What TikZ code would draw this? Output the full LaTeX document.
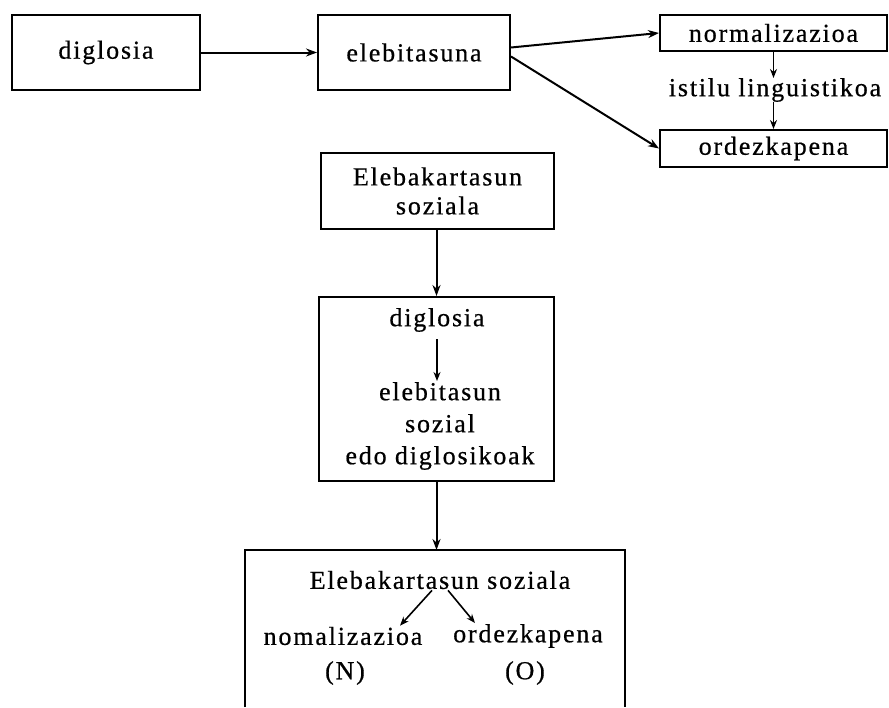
\documentclass[tikz,border=0pt]{standalone}
\usepackage{fontspec}
\setmainfont{Liberation Serif}[LetterSpace=7,FakeBold=0.6]
\usetikzlibrary{arrows.meta,calc}
\begin{document}
\begin{tikzpicture}[x=1pt,y=-1pt,
  box/.style={draw,line width=2pt,rectangle,inner sep=0pt},
  lbl/.style={inner sep=1pt,font=\fontsize{26}{29}\selectfont,align=center},
  arr/.style={line width=2pt,-{Stealth[length=11pt,width=8pt]}},
  sarr/.style={line width=1.6pt,-{Stealth[length=9pt,width=7pt]}}]
\useasboundingbox (0,0) rectangle (889,707);
% top row
\node[box,lbl,minimum width=188,minimum height=75] (d1) at (106,52.5) {diglosia};
\node[box,lbl,minimum width=192,minimum height=75] (e1) at (414,52.5) {elebitasuna};
\node[box,lbl,minimum width=227,minimum height=36] (n1) at (773.5,33) {normalizazioa};
\node[lbl,inner sep=0pt] (i1) at (775,90) {istilu linguistikoa};
\node[box,lbl,minimum width=227,minimum height=37] (o1) at (773.5,148.5) {ordezkapena};
\draw[arr] (d1.east) -- (e1.west);
\coordinate (e1a) at ($(e1.east)+(0,-5)$);
\coordinate (e1b) at ($(e1.east)+(0,4)$);
\draw[arr] (e1a) -- (n1.west);
\draw[arr] (e1b) -- (o1.west);
\draw[sarr] (n1.south) -- (n1.south |- i1.north);
\draw[sarr] (o1.north |- i1.south) -- (o1.north);
% middle column
\node[box,lbl,minimum width=233,minimum height=76] (e2) at (437.5,191) {Elebakartasun\\soziala};
\node[box,minimum width=235,minimum height=184] (m) at (436.5,389) {};
\draw[arr] (m.north |- e2.south) -- (m.north);
\node[lbl] (t1) at (437,320) {diglosia};
\node[lbl,font=\fontsize{26}{32}\selectfont] (t2) at (440,426) {elebitasun\\sozial\\edo diglosikoak};
\coordinate (t1b) at ($(t1.south)+(0,6)$);
\draw[sarr] (t1b) -- (t1b |- t2.north);
% bottom box (open at the bottom)
\coordinate (bbl) at (245,707);
\coordinate (btr) at (625,550);
\coordinate (bbr) at (625,707);
\coordinate (btop) at (436.5,550);
\draw[line width=2pt] (bbl) |- (btr) -- (bbr);
\draw[arr] (m.south) -- (btop);
\node[lbl] (es) at (440,580) {Elebakartasun soziala};
\node[lbl] (nn) at (343,636) {nomalizazioa};
\node[lbl] (oo) at (528,636) {ordezkapena};
\node[lbl] (nN) at (345,673) {(N)};
\node[lbl] (nO) at (525,673) {(O)};
\coordinate (es1) at ($(es.south)+(-8,0)$);
\coordinate (es2) at ($(es.south)+(8,0)$);
\coordinate (nn1) at ($(nn.north)+(57,0)$);
\coordinate (oo1) at ($(oo.north)+(-53,0)$);
\draw[sarr] (es1) -- (nn1);
\draw[sarr] (es2) -- (oo1);
\end{tikzpicture}
\end{document}
